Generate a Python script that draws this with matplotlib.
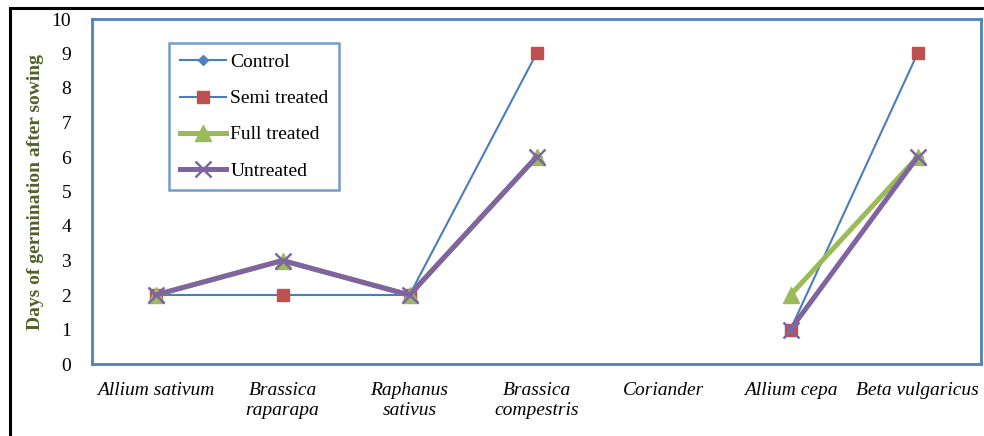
import numpy as np
import matplotlib
matplotlib.use("Agg")
import matplotlib.pyplot as plt
from matplotlib.patches import Rectangle

categories = ["Allium sativum", "Brassica\nraparapa", "Raphanus\nsativus",
              "Brassica\ncompestris", "Coriander", "Allium cepa", "Beta vulgaricus"]
control = [2, 3, 2, 6, np.nan, 1, 6]
semi_treated = [2, 2, 2, 9, np.nan, 1, 9]
full_treated = [2, 3, 2, 6, np.nan, 2, 6]
untreated = [2, 3, 2, 6, np.nan, 1, 6]
yticks = list(range(0, 11))

plt.rcParams['font.family'] = ['Liberation Serif', 'DejaVu Serif']

fig = plt.figure(figsize=(9.84, 4.36), dpi=100)
ax = fig.add_axes([92/984, 1-364/436, (981-92)/984, (364-19)/436])

x = np.arange(len(categories))
blue = '#4A7EBB'
ax.plot(x, control, color=blue, lw=1.5, marker='D', ms=5, mfc='#4F81BD', mec='#4F81BD', label='Control', zorder=3)
ax.plot(x, semi_treated, color=blue, lw=1.5, marker='s', ms=9, mfc='#C0504D', mec='#C0504D', label='Semi treated', zorder=3)
ax.plot(x, full_treated, color='#9BBB59', lw=3.6, marker='^', ms=12, mfc='#9BBB59', mec='#9BBB59', label='Full treated', zorder=4)
ax.plot(x, untreated, color='#8064A2', lw=3.6, marker='x', ms=12, mew=1.8, mec='#8064A2', label='Untreated', zorder=5)

ax.set_xlim(-0.5, len(categories) - 0.5)
ax.set_ylim(0, 10)
ax.set_yticks(yticks)
ax.set_yticklabels([str(v) for v in yticks], fontsize=14)
ax.set_xticks(x)
ax.set_xticklabels(categories, fontsize=14, style='italic', linespacing=1.25)
ax.tick_params(axis='both', length=0)
ax.tick_params(axis='y', pad=15)
ax.tick_params(axis='x', pad=13)
for sp in ax.spines.values():
    sp.set_color('#4F81BD')
    sp.set_linewidth(2.0)

fig.text(36/984, 1-192/436, 'Days of germination after sowing', rotation=90,
         ha='center', va='center', fontsize=14, fontweight='bold', color='#4F6228')

leg = ax.legend(loc='upper left', bbox_to_anchor=((169-92)/889, 1-(43-19)/345),
                frameon=True, fancybox=False, fontsize=14, handlelength=2.4,
                labelspacing=0.95, borderpad=0.55, handletextpad=0.2, borderaxespad=0)
leg.get_frame().set_edgecolor('#4F81BD')
leg.get_frame().set_linewidth(1.8)

fig.patches.append(Rectangle((10/984, -0.1), 1.2, 1-8.5/436+0.1, transform=fig.transFigure,
                             fill=False, edgecolor='black', lw=2.2, zorder=0))

fig.savefig('out.png', dpi=100)
